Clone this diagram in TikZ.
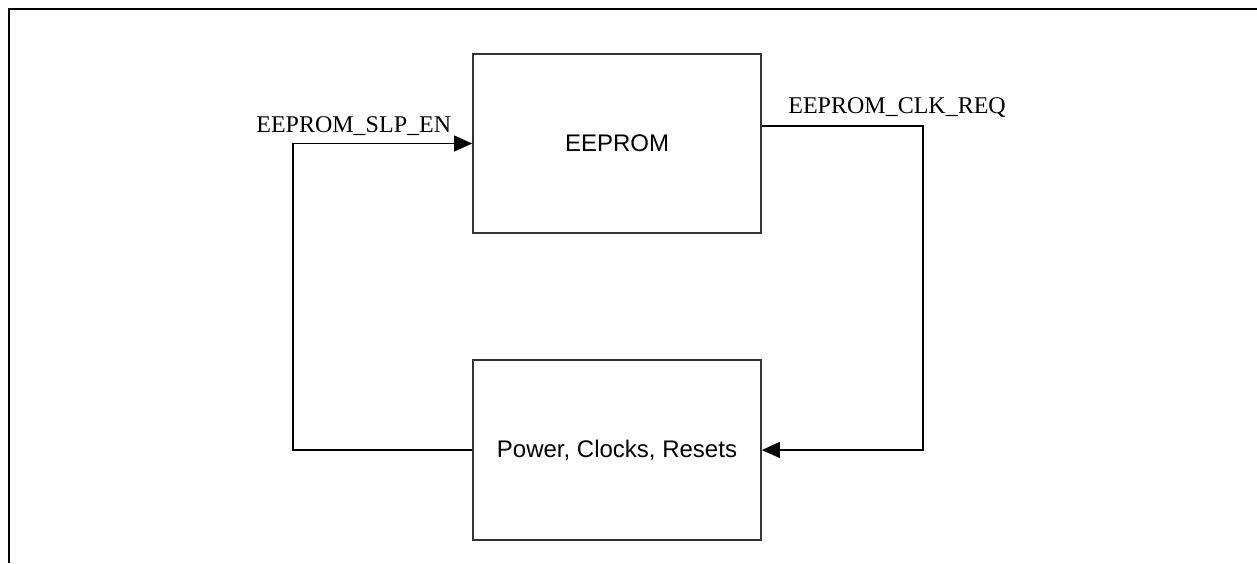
\documentclass[tikz,border=0pt]{standalone}
\usepackage{fontspec}
\setmainfont{Liberation Serif}
\setsansfont{Liberation Sans}
\usetikzlibrary{arrows.meta}

\tikzset{
	block/.style={draw=black!80, line width=0.9pt, minimum width=144pt, font=\sffamily\fontsize{12}{14}\selectfont},
	conn/.style={line width=0.6pt, -{Triangle[length=9pt,width=8pt]}},
	signal/.style={font=\fontsize{12}{14}\selectfont, inner sep=0pt}
}

\begin{document}
\begin{tikzpicture}[x=0.5pt, y=-0.5pt]
	\useasboundingbox (0,0) rectangle (1257,563);
	
	% Zeichnet den Rahmen (oben und links)
	\draw[line width=1pt] (1257,9) -- (9,9) -- (9,563);
	
	% Zeichnet die zwei Bloecke
	\node[block, minimum height=89.5pt] (eeprom) at (617,143.5) {EEPROM};
	\node[block, minimum height=90pt] (pcr) at (617,450) {Power, Clocks, Resets};
	
	% Eckpunkte der Leitungen
	\coordinate (slpcorner) at (293,450);
	\coordinate (clkcorner) at (923,126);
	
	% Zeichnet Leitung EEPROM_SLP_EN (von Power zu EEPROM)
	\draw[conn] (pcr.west) -- (slpcorner) |- (eeprom.west);
	\node[signal, anchor=base west] (slplabel) at (256,132) {EEPROM\_SLP\_EN};
	
	% Zeichnet Leitung EEPROM_CLK_REQ (von EEPROM zu Power)
	\draw[conn] (eeprom.east |- clkcorner) -- (clkcorner) |- (pcr.east);
	\node[signal, anchor=base west] (clklabel) at (788,113) {EEPROM\_CLK\_REQ};
	
\end{tikzpicture}
\end{document}
